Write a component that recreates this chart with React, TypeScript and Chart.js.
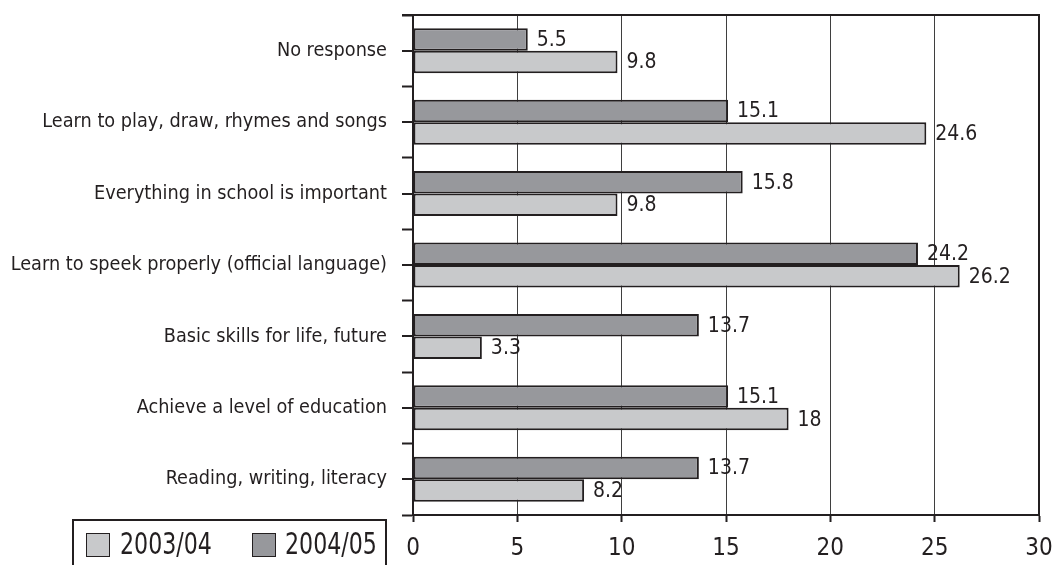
import React, { useEffect, useRef } from "react";
import { Chart, registerables } from "chart.js";

Chart.register(...registerables);

// Survey categories, listed top to bottom
const categories = [
  "No response",
  "Learn to play, draw, rhymes and songs",
  "Everything in school is important",
  "Learn to speek properly (official language)",
  "Basic skills for life, future",
  "Achieve a level of education",
  "Reading, writing, literacy",
];

const seriesLabels = ["2003/04", "2004/05"];
const values2003 = [9.8, 24.6, 9.8, 26.2, 3.3, 18, 8.2];
const values2004 = [5.5, 15.1, 15.8, 24.2, 13.7, 15.1, 13.7];

const xMin = 0;
const xMax = 30;
const xStep = 5;

const INK = "#231f20";
const LIGHT = "#c8c9cb";
const DARK = "#97989c";
const FONT = "'Liberation Sans Narrow', 'DejaVu Sans Condensed', 'Roboto Condensed', 'Arial Narrow', sans-serif";

// Value labels placed just past the end of each bar
const valueLabels = {
  id: "valueLabels",
  afterDatasetsDraw(chart: any) {
    const ctx = chart.ctx;
    ctx.save();
    ctx.font = `21px ${FONT}`;
    ctx.fillStyle = INK;
    ctx.textAlign = "left";
    ctx.textBaseline = "middle";
    chart.data.datasets.forEach((ds: any, di: number) => {
      const meta = chart.getDatasetMeta(di);
      meta.data.forEach((el: any, i: number) => {
        ctx.fillText(String(ds.data[i]), el.x + 9, el.y + 1);
      });
    });
    ctx.restore();
  },
};

// Frame on top and right, plus tick marks at the category centres
const frame = {
  id: "frame",
  afterDraw(chart: any) {
    const { ctx, chartArea } = chart;
    const y = chart.scales.y;
    ctx.save();
    ctx.strokeStyle = INK;
    ctx.lineWidth = 2;
    ctx.beginPath();
    ctx.moveTo(chartArea.left - 11, chartArea.top);
    ctx.lineTo(chartArea.right, chartArea.top);
    ctx.lineTo(chartArea.right, chartArea.bottom);
    for (let i = 0; i < categories.length; i++) {
      const py = Math.round(y.getPixelForTick(i));
      ctx.moveTo(chartArea.left - 11, py);
      ctx.lineTo(chartArea.left, py);
    }
    ctx.stroke();
    ctx.restore();
  },
};

export default function App() {
  const canvasRef = useRef<HTMLCanvasElement | null>(null);

  useEffect(() => {
    if (!canvasRef.current) return;
    const chart = new Chart(canvasRef.current, {
      type: "bar",
      data: {
        labels: categories,
        datasets: [
          {
            label: seriesLabels[1],
            data: values2004,
            backgroundColor: DARK,
            borderColor: INK,
            borderWidth: 2,
            borderSkipped: false,
            categoryPercentage: 0.63,
            barPercentage: 1,
          },
          {
            label: seriesLabels[0],
            data: values2003,
            backgroundColor: LIGHT,
            borderColor: INK,
            borderWidth: 2,
            borderSkipped: false,
            categoryPercentage: 0.63,
            barPercentage: 1,
          },
        ],
      },
      options: {
        indexAxis: "y",
        animation: false,
        responsive: false,
        maintainAspectRatio: false,
        layout: { padding: { top: 15, right: 16, left: 0, bottom: 0 } },
        plugins: {
          legend: { display: false },
          tooltip: { enabled: false },
        },
        scales: {
          x: {
            min: xMin,
            max: xMax,
            ticks: {
              stepSize: xStep,
              color: INK,
              font: { family: FONT, size: 24 },
              padding: 12,
            },
            grid: {
              color: "#3f3f3f",
              lineWidth: 1,
              drawTicks: true,
              tickLength: 7,
              tickColor: INK,
              tickWidth: 2,
            },
            border: { display: true, color: INK, width: 2 },
            afterFit(scale: any) {
              scale.height = 50;
              scale.paddingLeft = 0;
              scale.paddingRight = 0;
            },
          },
          y: {
            ticks: {
              color: INK,
              font: { family: FONT, size: 19.7 },
              padding: 15,
            },
            grid: {
              offset: true,
              drawOnChartArea: false,
              drawTicks: true,
              tickLength: 11,
              tickColor: INK,
              tickWidth: 2,
            },
            border: { display: true, color: INK, width: 2 },
            afterFit(scale: any) {
              scale.width = 413;
              scale.paddingTop = 0;
              scale.paddingBottom = 0;
            },
          },
        },
      },
      plugins: [valueLabels, frame],
    });
    return () => chart.destroy();
  }, []);

  const swatch = (left: number, color: string): React.CSSProperties => ({
    position: "absolute",
    left,
    top: 12,
    width: 24,
    height: 24,
    boxSizing: "border-box",
    background: color,
    border: `1.5px solid ${INK}`,
  });

  const text = (left: number): React.CSSProperties => ({
    position: "absolute",
    left,
    top: 6,
    fontFamily: FONT,
    fontSize: 30,
    lineHeight: "34px",
    color: INK,
    whiteSpace: "nowrap",
    transform: "scaleX(0.82)",
    transformOrigin: "left center",
  });

  return (
    <div style={{ position: "fixed", left: 0, top: 0, width: 1055, height: 565, overflow: "hidden", background: "#fff" }}>
      <canvas ref={canvasRef} width={1055} height={565} style={{ display: "block" }} />
      <div
        style={{
          position: "absolute",
          left: 72,
          top: 519,
          width: 315,
          height: 60,
          border: `2px solid ${INK}`,
          boxSizing: "border-box",
        }}
      >
        <span style={swatch(12, LIGHT)} />
        <span style={text(46)}>{seriesLabels[0]}</span>
        <span style={swatch(178, DARK)} />
        <span style={text(211)}>{seriesLabels[1]}</span>
      </div>
    </div>
  );
}
